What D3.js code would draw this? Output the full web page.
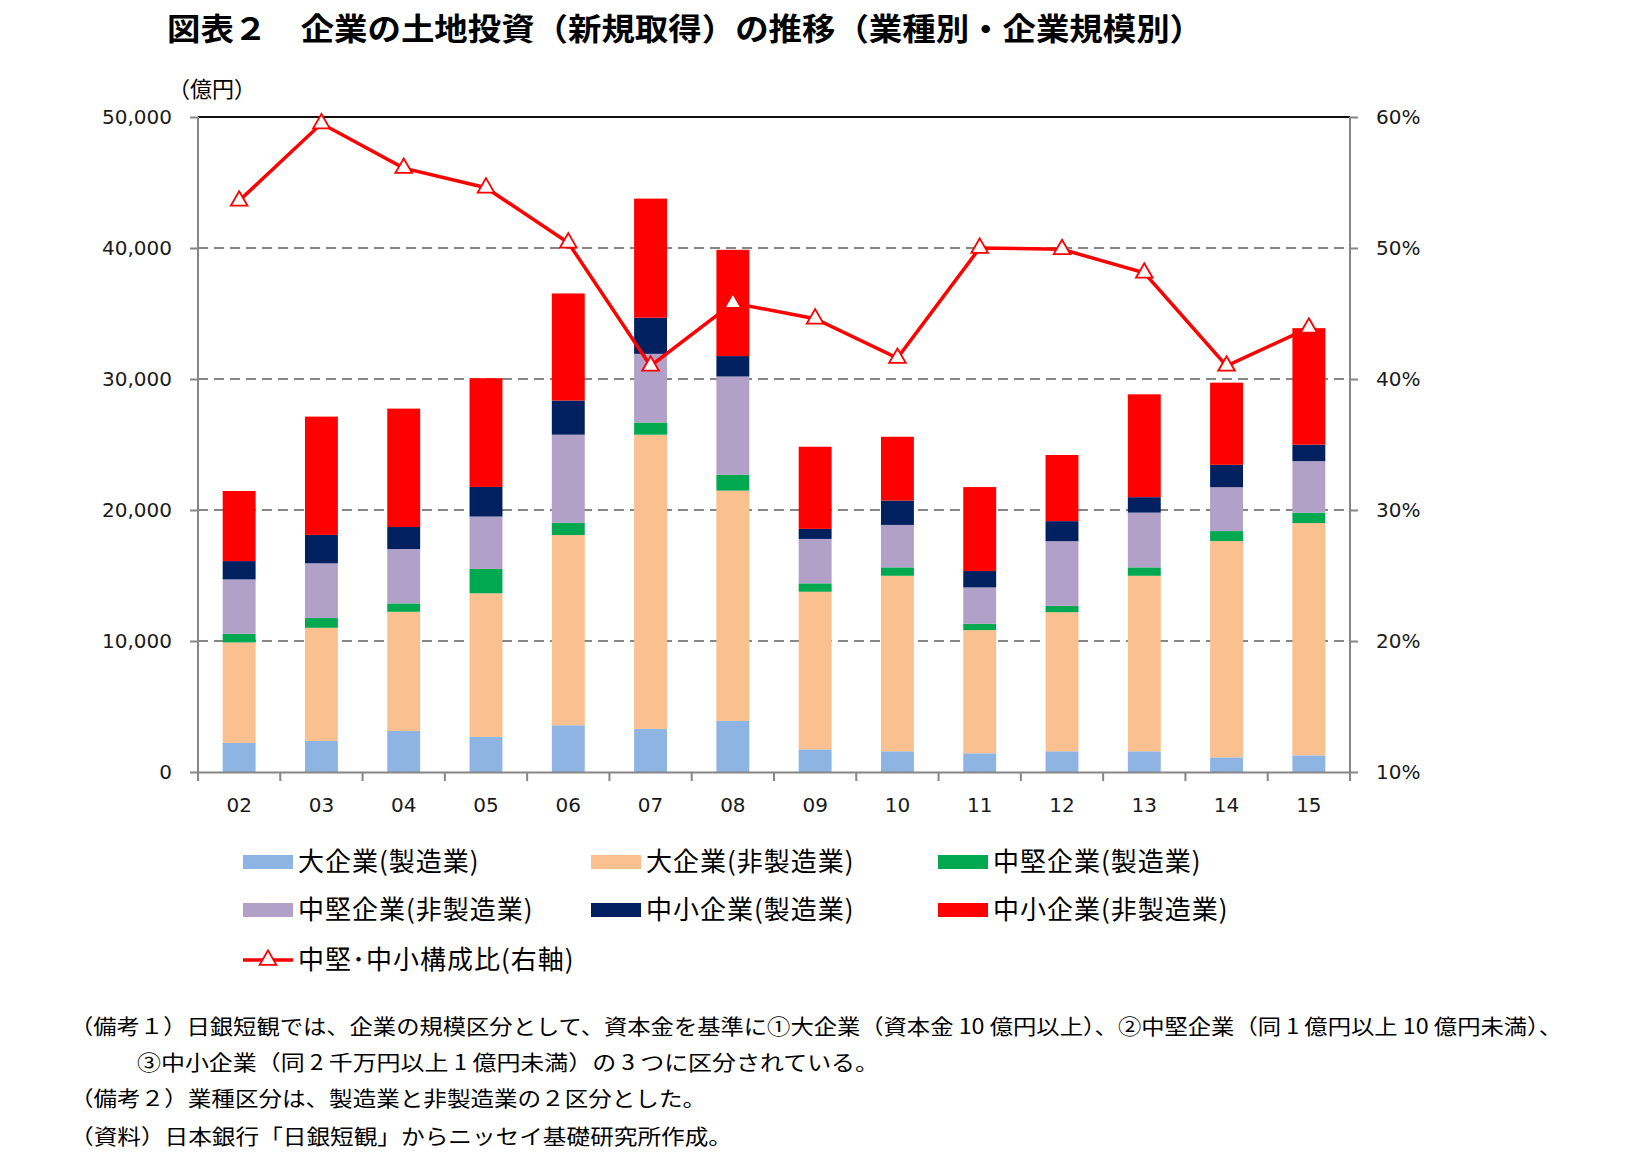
<!DOCTYPE html>
<html>
<head>
<meta charset="utf-8">
<script src="https://cdn.jsdelivr.net/npm/d3@7"></script>
<style>
  body { margin: 0; background: #fff; }
  svg { display: block; }
  .jp { font-family: "Noto Sans CJK JP", sans-serif; }
  .num { font-family: "DejaVu Sans", sans-serif; }
</style>
</head>
<body>
<svg id="chart" width="1625" height="1175"></svg>
<script>
// data (億円, %)
const years = ['02', '03', '04', '05', '06', '07', '08', '09', '10', '11', '12', '13', '14', '15'];
const seriesNames = ['大企業(製造業)', '大企業(非製造業)', '中堅企業(製造業)', '中堅企業(非製造業)', '中小企業(製造業)', '中小企業(非製造業)'];
const largeMfg    = [2220, 2370, 3130, 2680, 3570, 3290, 3900, 1730, 1580, 1430, 1580, 1580, 1120, 1270];
const largeNonMfg = [7670, 8640, 9100, 10960, 14520, 22460, 17580, 12030, 13400, 9400, 10620, 13400, 16510, 17730];
const midMfg      = [660, 740, 640, 1860, 940, 930, 1210, 640, 640, 480, 480, 640, 760, 790];
const midNonMfg   = [4150, 4180, 4150, 4000, 6720, 5240, 7500, 3390, 3240, 2780, 4940, 4180, 3350, 3940];
const smallMfg    = [1400, 2170, 1680, 2260, 2610, 2760, 1560, 770, 1860, 1250, 1530, 1180, 1710, 1260];
const smallNonMfg = [5350, 9030, 9040, 8300, 8170, 9090, 8110, 6270, 4870, 6410, 5050, 7850, 6270, 8890];
const ratio       = [53.6, 59.5, 56.1, 54.6, 50.4, 41.0, 45.8, 44.6, 41.6, 50.0, 49.9, 48.1, 41.0, 43.9];
const leftTicks = [0, 10000, 20000, 30000, 40000, 50000];
const rightTicks = [10, 20, 30, 40, 50, 60];
const ratioName = '中堅･中小構成比(右軸)';
const colors = ['#8db4e2', '#fac090', '#00a84f', '#b1a0c7', '#002060', '#ff0000'];

const notes = [
    {text: '（備考１）日銀短観では、企業の規模区分として、資本金を基準に①大企業（資本金 10 億円以上）、②中堅企業（同 1 億円以上 10 億円未満）、', x: 70, y: 1026, w: 1492},
    {text: '③中小企業（同 2 千万円以上 1 億円未満）の 3 つに区分されている。', x: 137, y: 1062, w: 742},
    {text: '（備考２）業種区分は、製造業と非製造業の２区分とした。', x: 70, y: 1098, w: 636},
    {text: '（資料）日本銀行「日銀短観」からニッセイ基礎研究所作成。', x: 70, y: 1136, w: 662}
];

const svg = d3.select('#chart');
const plotLeft = 198, plotRight = 1350, plotTop = 117, plotBottom = 772;

const table = years.map((y, i) => ({
    year: y,
    s0: largeMfg[i], s1: largeNonMfg[i], s2: midMfg[i],
    s3: midNonMfg[i], s4: smallMfg[i], s5: smallNonMfg[i]
}));
const keys = ['s0', 's1', 's2', 's3', 's4', 's5'];
const stacked = d3.stack().keys(keys)(table);

const xScale = d3.scaleBand().domain(years).range([plotLeft, plotRight]).paddingInner(0.6).paddingOuter(0.3);
const xEdge = d3.scaleBand().domain(years).range([plotLeft, plotRight]);
const yScale = d3.scaleLinear().domain([0, 50000]).range([plotBottom, plotTop]);
const rScale = d3.scaleLinear().domain([10, 60]).range([plotBottom, plotTop]);

// title
svg.append('text')
    .attr('class', 'jp')
    .attr('x', 167).attr('y', 40)
    .attr('font-size', 31).attr('font-weight', 'bold')
    .attr('textLength', 1036).attr('lengthAdjust', 'spacingAndGlyphs')
    .text('図表２　企業の土地投資（新規取得）の推移（業種別・企業規模別）');

svg.append('text')
    .attr('class', 'jp')
    .attr('x', 168).attr('y', 97)
    .attr('font-size', 22)
    .text('（億円）');

// gridlines
svg.append('g')
    .selectAll('line')
    .data(leftTicks.filter(d => d > 0 && d < 50000))
    .enter()
    .append('line')
        .attr('x1', plotLeft).attr('x2', plotRight)
        .attr('y1', d => yScale(d)).attr('y2', d => yScale(d))
        .attr('stroke', '#868686')
        .attr('stroke-width', 2)
        .attr('stroke-dasharray', '10,6');

svg.append('line')
    .attr('x1', plotLeft).attr('x2', plotRight)
    .attr('y1', plotTop).attr('y2', plotTop)
    .attr('stroke', '#111').attr('stroke-width', 2);

// bars
svg.append('g')
    .selectAll('g')
    .data(stacked)
    .enter()
    .append('g')
        .attr('fill', (d, i) => colors[i])
    .selectAll('rect')
    .data(d => d)
    .enter()
    .append('rect')
        .attr('x', d => xScale(d.data.year))
        .attr('width', xScale.bandwidth())
        .attr('y', d => yScale(d[1]))
        .attr('height', d => yScale(d[0]) - yScale(d[1]));

// axes
const leftAxis = d3.axisLeft(yScale)
    .tickValues(leftTicks)
    .tickSize(8)
    .tickPadding(18)
    .tickFormat(d3.format(','));
const gl = svg.append('g')
    .attr('transform', `translate(${plotLeft},0)`)
    .call(leftAxis);

const rightAxis = d3.axisRight(rScale)
    .tickValues(rightTicks)
    .tickSize(8)
    .tickPadding(18)
    .tickFormat(d => d + '%');
const gr = svg.append('g')
    .attr('transform', `translate(${plotRight},0)`)
    .call(rightAxis);

const bottomAxis = d3.axisBottom(xEdge)
    .tickSize(0)
    .tickPadding(26);
const gb = svg.append('g')
    .attr('transform', `translate(0,${plotBottom})`)
    .call(bottomAxis);

// band edge ticks on the x axis
svg.append('g')
    .selectAll('line')
    .data(years.map(y => xEdge(y)).concat([plotRight]))
    .enter()
    .append('line')
        .attr('x1', d => d).attr('x2', d => d)
        .attr('y1', plotBottom).attr('y2', plotBottom + 9)
        .attr('stroke', '#868686').attr('stroke-width', 2);

[gl, gr, gb].forEach(g => {
    g.selectAll('.domain').attr('stroke', '#868686').attr('stroke-width', 2);
    g.selectAll('.tick line').attr('stroke', '#868686').attr('stroke-width', 2);
    g.selectAll('text')
        .attr('class', 'num')
        .attr('font-size', 20)
        .attr('fill', '#1a1a1a');
});
gl.select('.domain').attr('d', `M0,${plotTop}V${plotBottom}`);
gr.select('.domain').attr('d', `M0,${plotTop}V${plotBottom}`);

// ratio line
const line = d3.line()
    .x((d, i) => xEdge(years[i]) + xEdge.bandwidth() / 2)
    .y(d => rScale(d));

svg.append('path')
    .datum(ratio)
    .attr('d', line)
    .attr('fill', 'none')
    .attr('stroke', '#ff0000')
    .attr('stroke-width', 3.5);

const tri = d3.symbol().type(d3.symbolTriangle).size(120);
svg.append('g')
    .selectAll('path')
    .data(ratio)
    .enter()
    .append('path')
        .attr('d', tri)
        .attr('transform', (d, i) => `translate(${xEdge(years[i]) + xEdge.bandwidth() / 2},${rScale(d)})`)
        .attr('fill', '#fff')
        .attr('stroke', '#ff0000')
        .attr('stroke-width', 1.8);

// legend
const legendX = [243, 591, 938];
const legendY = [862, 910, 960];
const legend = svg.append('g');
seriesNames.forEach((name, i) => {
    const lx = legendX[i % 3], ly = legendY[Math.floor(i / 3)];
    legend.append('rect')
        .attr('x', lx).attr('y', ly - 7)
        .attr('width', 50).attr('height', 14)
        .attr('fill', colors[i]);
    legend.append('text')
        .attr('class', 'jp')
        .attr('x', lx + 55).attr('y', ly)
        .attr('dy', '0.36em')
        .attr('font-size', 26)
        .attr('letter-spacing', 1)
        .text(name);
});
legend.append('line')
    .attr('x1', legendX[0]).attr('x2', legendX[0] + 50)
    .attr('y1', legendY[2]).attr('y2', legendY[2])
    .attr('stroke', '#ff0000').attr('stroke-width', 3.5);
legend.append('path')
    .attr('d', tri)
    .attr('transform', `translate(${legendX[0] + 25},${legendY[2]})`)
    .attr('fill', '#fff').attr('stroke', '#ff0000').attr('stroke-width', 1.8);
legend.append('text')
    .attr('class', 'jp')
    .attr('x', legendX[0] + 55).attr('y', legendY[2])
    .attr('dy', '0.36em')
    .attr('font-size', 26)
    .attr('letter-spacing', 1)
    .text(ratioName);

// notes
svg.append('g')
    .selectAll('text')
    .data(notes)
    .enter()
    .append('text')
        .attr('class', 'jp')
        .attr('x', d => d.x).attr('y', d => d.y)
        .attr('dy', '0.36em')
        .attr('font-size', 21)
        .attr('textLength', d => d.w)
        .attr('lengthAdjust', 'spacingAndGlyphs')
        .text(d => d.text);
</script>
</body>
</html>
